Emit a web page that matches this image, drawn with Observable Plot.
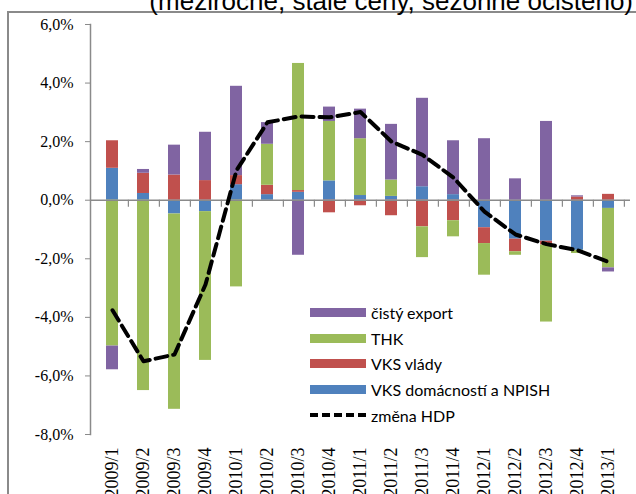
<!DOCTYPE html>
<html>
<head>
<meta charset="utf-8">
<script src="https://cdn.jsdelivr.net/npm/d3@7"></script>
<script src="https://cdn.jsdelivr.net/npm/@observablehq/plot@0.6"></script>
<style>
  html, body { margin: 0; padding: 0; background: #fff; overflow: hidden; }
  body { position: relative; width: 636px; height: 494px; }
  #frame { position: absolute; left: 7px; top: 11px; width: 700px; height: 600px;
           border-left: 2px solid #8a8a8a; border-top: 2px solid #8a8a8a; }
  #title { position: absolute; right: 3px; top: -12.5px; white-space: nowrap;
           font-family: "Liberation Sans", Arial, sans-serif; font-size: 26px; line-height: 26px; color: #000; }
  #chart { position: absolute; left: 0; top: 0; }
  #legend { position: absolute; left: 310px; top: 300px; font-family: Lato, sans-serif; font-size: 16px; color: #000; }
  .row { height: 25.6px; display: flex; align-items: center; }
  .sw { width: 56px; height: 9px; margin-right: 5px; }
  .dash { width: 56px; height: 0; border-top: 4px dashed #000; margin-right: 5px; }
</style>
</head>
<body>
<div id="frame"></div>
<div id="title">(meziročně, stálé ceny, sezónně očištěno)</div>
<div id="chart"></div>
<div id="legend"></div>
<script>
const categories = ["2009/1","2009/2","2009/3","2009/4","2010/1","2010/2","2010/3","2010/4","2011/1","2011/2","2011/3","2011/4","2012/1","2012/2","2012/3","2012/4","2013/1"];
const seriesNames = ["VKS domácností a NPISH", "VKS vlády", "THK", "čistý export"];
const seriesColors = ["#4f81bd", "#c0504d", "#9bbb59", "#8064a2"];
const vksDomacnosti = [1.09, 0.23, -0.47, -0.39, 0.53, 0.19, 0.27, 0.66, 0.16, 0.13, 0.46, 0.19, -0.94, -1.33, -1.40, -1.71, -0.28];
const vksVlady = [0.94, 0.69, 0.86, 0.67, 0.31, 0.32, 0.06, -0.43, -0.19, -0.53, -0.91, -0.70, -0.54, -0.43, -0.13, 0.11, 0.20];
const thk = [-4.98, -6.50, -6.67, -5.08, -2.96, 1.40, 4.34, 2.03, 1.94, 0.56, -1.05, -0.55, -1.08, -0.12, -2.63, -0.11, -2.03];
const cistyExport = [-0.81, 0.13, 1.02, 1.65, 3.05, 0.74, -1.88, 0.49, 1.01, 1.90, 3.02, 1.84, 2.10, 0.73, 2.69, 0.04, -0.14];
const zmenaHDP = [-3.76, -5.50, -5.27, -2.88, 1.02, 2.66, 2.86, 2.83, 3.01, 2.00, 1.55, 0.77, -0.39, -1.17, -1.50, -1.71, -2.11];
const yTicks = [-8, -6, -4, -2, 0, 2, 4, 6];
const legendOrder = ["čistý export", "THK", "VKS vlády", "VKS domácností a NPISH"];

const seriesValues = [vksDomacnosti, vksVlady, thk, cistyExport];
const bars = categories.flatMap((q, i) => seriesNames.map((s, k) => ({q, s, v: seriesValues[k][i]})));
const line = categories.map((q, i) => ({q, v: zmenaHDP[i]}));

const W = 636, H = 494, mL = 90, mR = 6, mT = 24, mB = 60;
const step = (W - mL - mR) / categories.length;
const gray = "#8a8a8a";

const chart = Plot.plot({
  width: W, height: H,
  marginLeft: mL, marginRight: mR, marginTop: mT, marginBottom: mB,
  style: {fontFamily: "'Liberation Serif', 'Times New Roman', serif", fontSize: "16px", background: "transparent", overflow: "visible", color: "#000"},
  x: {domain: categories, paddingInner: 0.62, paddingOuter: 0.31, label: null},
  y: {domain: [-8, 6], label: null},
  color: {domain: seriesNames, range: seriesColors},
  marks: [
    Plot.barY(bars, {x: "q", y: "v", fill: "s"}),
    Plot.ruleY([0], {stroke: gray, strokeWidth: 1.5}),
    Plot.ruleX(categories, {x: d => d, y1: 0, y2: -0.24, dx: step / 2, stroke: gray, strokeWidth: 1.2}),
    Plot.line(line, {x: "q", y: "v", stroke: "#000", strokeWidth: 4, strokeDasharray: "12,6"}),
    Plot.frame({anchor: "left", stroke: gray, strokeWidth: 1.5}),
    Plot.axisY({ticks: yTicks, tickFormat: d => d.toFixed(1).replace(".", ",") + "%", tickSize: 5, tickPadding: 12, stroke: gray, label: null}),
    Plot.axisX({tickSize: 0, tickRotate: -90, tickPadding: 13, fontSize: 18, label: null})
  ]
});
document.getElementById("chart").appendChild(chart);

const legend = document.getElementById("legend");
legendOrder.forEach(name => {
  const row = document.createElement("div");
  row.className = "row";
  const sw = document.createElement("div");
  sw.className = "sw";
  sw.style.background = seriesColors[seriesNames.indexOf(name)];
  const t = document.createElement("span");
  t.textContent = name;
  row.append(sw, t);
  legend.appendChild(row);
});
const hr = document.createElement("div");
hr.className = "row";
const d = document.createElement("div");
d.className = "dash";
const t2 = document.createElement("span");
t2.textContent = "změna HDP";
hr.append(d, t2);
legend.appendChild(hr);
</script>
</body>
</html>
